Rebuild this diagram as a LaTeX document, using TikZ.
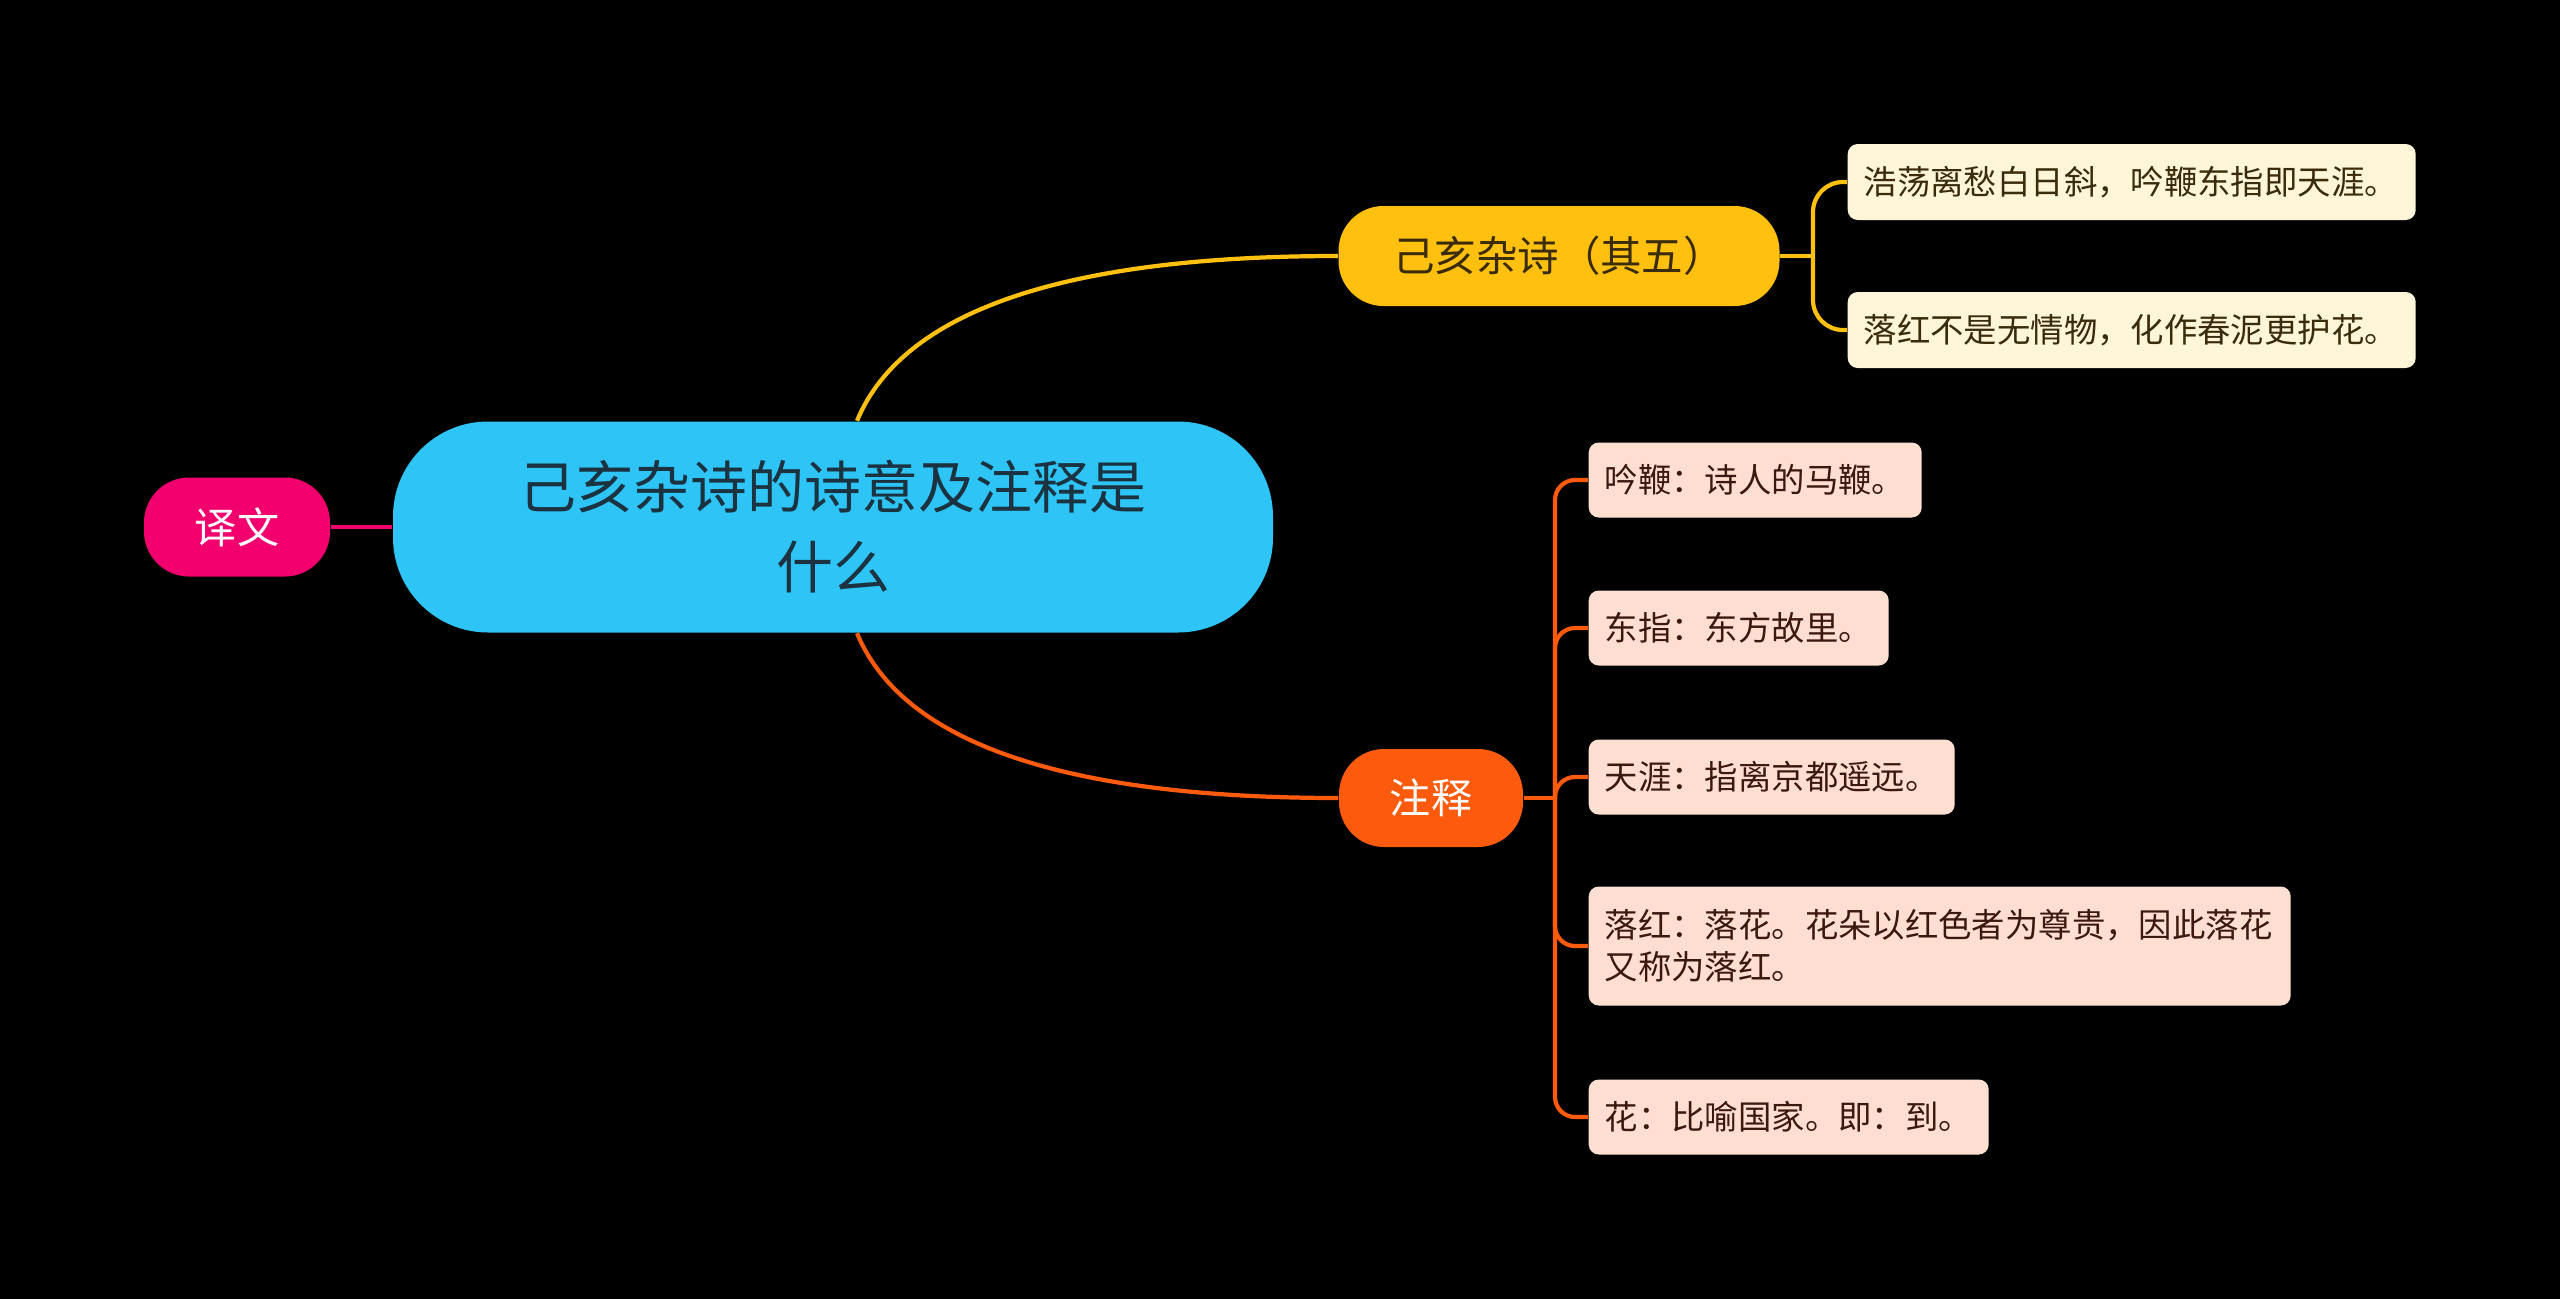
\documentclass[tikz,border=0pt]{standalone}
\usepackage{fontspec}
\setmainfont{Noto Sans CJK SC}
\usetikzlibrary{positioning, calc}
\usepackage{xcolor}
\definecolor{mmback}{HTML}{000000}
\definecolor{mmblue}{HTML}{2EC4F5}
\definecolor{mmbluetext}{HTML}{1B3340}
\definecolor{mmpink}{HTML}{F2006E}
\definecolor{mmyellow}{HTML}{FFC00F}
\definecolor{mmcream}{HTML}{FFF5D9}
\definecolor{mmyellowtext}{HTML}{3A2C0A}
\definecolor{mmorange}{HTML}{FC5A0C}
\definecolor{mmpeach}{HTML}{FFDFD0}
\definecolor{mmorangetext}{HTML}{3A1A10}

\begin{document}
\begin{tikzpicture}[font=\fontsize{9.5pt}{12pt}\selectfont,
    yleaf/.style={fill=mmcream, text=mmyellowtext, rounded corners=0.1cm, anchor=west,
          inner xsep=0.16cm, align=left, minimum height=0.76cm},
    oleaf/.style={fill=mmpeach, text=mmorangetext, rounded corners=0.1cm, anchor=west,
          inner xsep=0.16cm, align=left, minimum height=0.75cm}]
    \fill[mmback] (0,0) rectangle (25.6,-12.99);
    \useasboundingbox (0,0) rectangle (25.6,-12.99);
    % ROOT
    \node[fill=mmblue, text=mmbluetext, rounded corners=0.95cm, align=center,
          font=\fontsize{16.2pt}{22.8pt}\selectfont,
          minimum width=8.8cm, minimum height=2.11cm] (root) at (8.33,-5.27)
      {己亥杂诗的诗意及注释是\\什么};
    \node[fill=mmpink, text=white, rounded corners=0.45cm, font=\fontsize{12pt}{14pt}\selectfont,
          minimum width=1.86cm, minimum height=0.99cm] (yiwen) at (2.37,-5.27) {译文};
    \draw[mmpink, line width=1.2pt] (yiwen.east) -- (root.west);
    % QIWU
    \node[fill=mmyellow, text=mmyellowtext, rounded corners=0.45cm, font=\fontsize{11.8pt}{14pt}\selectfont,
          minimum width=4.41cm, minimum height=1.0cm] (qiwu) at (15.59,-2.56) {己亥杂诗（其五）};
    \node[yleaf, text width=5.36cm] (ya) at (18.47,-1.82) {浩荡离愁白日斜，吟鞭东指即天涯。};
    \node[yleaf, text width=5.36cm] (yb) at (18.47,-3.30) {落红不是无情物，化作春泥更护花。};
    \coordinate (yj) at (18.13,-2.56);
    \draw[mmyellow, line width=1.2pt] ($(root.north)+(0.24,0)$)
      .. controls (9.05,-3.05) and (10.8,-2.56) .. (qiwu.west);
    \draw[mmyellow, line width=1.2pt] (qiwu.east) -- (yj);
    \draw[mmyellow, line width=1.2pt, rounded corners=0.3cm] (yj) |- (ya.west);
    \draw[mmyellow, line width=1.2pt, rounded corners=0.3cm] (yj) |- (yb.west);
    % ZHUSHI
    \node[fill=mmorange, text=white, rounded corners=0.45cm, font=\fontsize{11.7pt}{14pt}\selectfont,
          minimum width=1.84cm, minimum height=0.98cm] (zhushi) at (14.31,-7.98) {注释};
    \node[oleaf, text width=3.01cm] (oa) at (15.88,-4.80) {吟鞭：诗人的马鞭。};
    \node[oleaf, text width=2.68cm] (ob) at (15.88,-6.28) {东指：东方故里。};
    \node[oleaf, text width=3.34cm] (oc) at (15.88,-7.77) {天涯：指离京都遥远。};
    \node[oleaf, text width=6.70cm, minimum height=1.19cm] (od) at (15.88,-9.46)
      {落红：落花。花朵以红色者为尊贵，因此落花\\又称为落红。};
    \node[oleaf, text width=3.68cm] (oe) at (15.88,-11.17) {花：比喻国家。即：到。};
    \coordinate (oj) at (15.55,-7.98);
    \draw[mmorange, line width=1.2pt] ($(root.south)+(0.24,0)$)
      .. controls (9.05,-7.49) and (10.8,-7.98) .. (zhushi.west);
    \draw[mmorange, line width=1.2pt] (zhushi.east) -- (oj);
    \foreach \leaf in {oa,ob,oc,od,oe}
      \draw[mmorange, line width=1.2pt, rounded corners=0.2cm] (oj) |- (\leaf.west);
\end{tikzpicture}
\end{document}
